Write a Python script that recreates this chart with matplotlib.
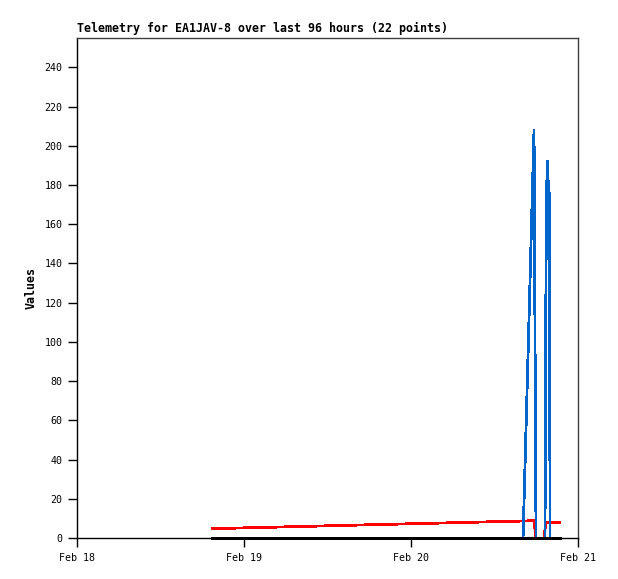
import matplotlib
matplotlib.use("Agg")
import matplotlib.pyplot as plt

# hours since Feb 18 00:00
hours = [19.4, 26.0, 32.6, 39.2, 45.8, 52.4, 59.0, 62.0, 64.1, 64.9, 65.68,
         65.82, 65.97, 67.11, 67.26, 67.33, 67.47, 67.62, 67.76, 67.90, 67.98, 69.41]
red_vals = [4.75, 5.33, 5.91, 6.49, 7.06, 7.64, 8.22, 8.48, 8.66, 8.73, 8.8,
            4.4, 0.0, 0.0, 4.0, 7.8, 7.8, 7.8, 7.8, 7.8, 7.8, 7.8]
blue_vals = [0, 0, 0, 0, 0, 0, 0, 0, 0, 104, 208,
             104, 0, 0, 0, 88, 176, 192, 176, 176, 0, 0]
black_vals = [0] * 22

x_ticks = [0, 24, 48, 72]
x_labels = ["Feb 18", "Feb 19", "Feb 20", "Feb 21"]
y_ticks = list(range(0, 241, 20))

title = "Telemetry for EA1JAV-8 over last 96 hours (22 points)"

mono = ["DejaVu Sans Mono", "Liberation Mono"]

fig = plt.figure(figsize=(6.18, 5.79), dpi=100)
ax = fig.add_axes([77 / 618, 1 - 538 / 579, 501 / 618, 500 / 579])

lw = 1.3
ax.plot(hours, red_vals, color="#ff0000", lw=lw, antialiased=False)
ax.plot(hours, blue_vals, color="#0066cc", lw=lw, antialiased=False)
ax.plot(hours, black_vals, color="#000000", lw=1.8, antialiased=False,
        clip_on=False, zorder=3)

ax.set_xlim(0, 72)
ax.set_ylim(0, 255)
ax.set_xticks(x_ticks)
ax.set_xticklabels(x_labels, fontfamily=mono, fontsize=7.2)
ax.set_yticks(y_ticks)
ax.set_yticklabels([str(v) for v in y_ticks], fontfamily=mono, fontsize=7.2)
ax.tick_params(direction="out", length=6.5, width=1, color="black", pad=4)

for s in ["left", "bottom"]:
    ax.spines[s].set_color("black")
    ax.spines[s].set_linewidth(1)
for s in ["top", "right"]:
    ax.spines[s].set_color("#404040")
    ax.spines[s].set_linewidth(1)

ax.set_ylabel("Values", fontfamily=mono, fontsize=8.4, fontweight="bold", labelpad=5)
ax.set_title(title, loc="left", fontfamily=mono, fontsize=8.35, fontweight="bold", pad=4)

fig.savefig("out.png", dpi=100)
